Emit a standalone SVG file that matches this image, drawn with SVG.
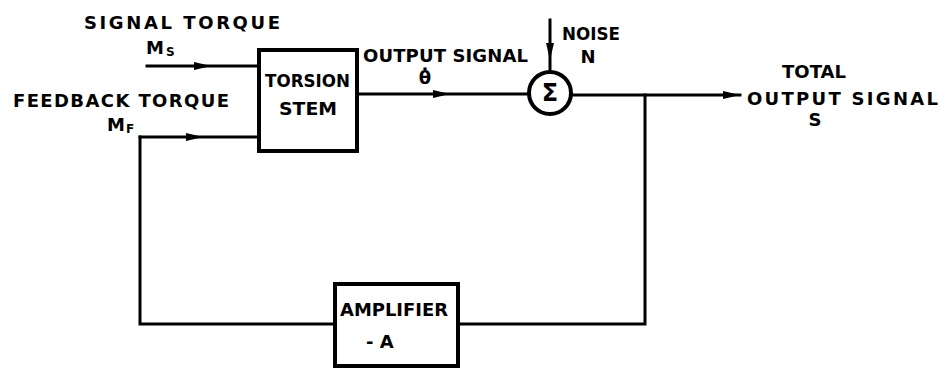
<svg xmlns="http://www.w3.org/2000/svg" width="951" height="368" viewBox="0 0 951 368">
<style>
.bg{fill:#fff}
.box{fill:#fff;stroke:#000;stroke-width:4}
.ln{fill:none;stroke:#000;stroke-width:3;stroke-linejoin:miter;stroke-linecap:square}
.t{font-family:"DejaVu Sans","Liberation Sans",sans-serif;font-weight:bold;font-size:18px;fill:#000}
.sub{font-size:12px}
.sig{font-family:"DejaVu Sans","Liberation Sans",sans-serif;font-weight:bold;font-size:24px;fill:#000}
</style>
<defs>
<marker id="arr" markerUnits="userSpaceOnUse" markerWidth="20" markerHeight="12" refX="17" refY="6" orient="auto">
<path d="M0,2 L17,6 L0,10 Z" fill="#000"/>
</marker>
</defs>
<rect class="bg" width="951" height="368"/>
<g id="connectors">
<path class="ln" d="M147,66 L211,66 L259,66" marker-mid="url(#arr)"/>
<path class="ln" d="M140,137 L203,137 L259,137" marker-mid="url(#arr)"/>
<path class="ln" d="M140,137 L140,324 L335,324"/>
<path class="ln" d="M357,94 L450,94 L529,94" marker-mid="url(#arr)"/>
<path class="ln" d="M550,20 L550,60 L550,72" marker-mid="url(#arr)"/>
<path class="ln" d="M571,95 L740,95" marker-end="url(#arr)"/>
<path class="ln" d="M645,95 L645,324 L458,324"/>
</g>
<g id="torsion-stem">
<rect class="box" x="259" y="50" width="98" height="101"/>
<text class="t" x="265" y="87" textLength="85" lengthAdjust="spacingAndGlyphs">TORSION</text>
<text class="t" x="279" y="115" textLength="58" lengthAdjust="spacingAndGlyphs">STEM</text>
</g>
<g id="summing-junction">
<circle cx="550" cy="93" r="21" fill="#fff" stroke="#000" stroke-width="4"/>
<text class="sig" x="550" y="101" text-anchor="middle">Σ</text>
</g>
<g id="amplifier">
<rect class="box" x="335" y="284" width="123" height="82"/>
<text class="t" x="340" y="316" textLength="108" lengthAdjust="spacingAndGlyphs">AMPLIFIER</text>
<text class="t" x="366" y="348">- A</text>
</g>
<g id="signal-torque">
<text class="t" x="84" y="29" textLength="196" lengthAdjust="spacing">SIGNAL TORQUE</text>
<text class="t" x="146" y="54">M<tspan class="sub" dx="2" dy="2">S</tspan></text>
</g>
<g id="feedback-torque">
<text class="t" x="13" y="107" textLength="216" lengthAdjust="spacing">FEEDBACK TORQUE</text>
<text class="t" x="107" y="131">M<tspan class="sub" dx="1" dy="2">F</tspan></text>
</g>
<g id="output-signal-label">
<text class="t" x="363" y="62" textLength="165" lengthAdjust="spacing">OUTPUT SIGNAL</text>
<text class="t" x="425" y="84" text-anchor="middle">θ̇</text>
</g>
<g id="noise">
<text class="t" x="562" y="40" textLength="58" lengthAdjust="spacingAndGlyphs">NOISE</text>
<text class="t" x="588" y="63" text-anchor="middle">N</text>
</g>
<g id="total-output">
<text class="t" x="782" y="78" textLength="64" lengthAdjust="spacingAndGlyphs">TOTAL</text>
<text class="t" x="747" y="105" textLength="191" lengthAdjust="spacing">OUTPUT SIGNAL</text>
<text class="t" x="815" y="126" text-anchor="middle">S</text>
</g>
</svg>
